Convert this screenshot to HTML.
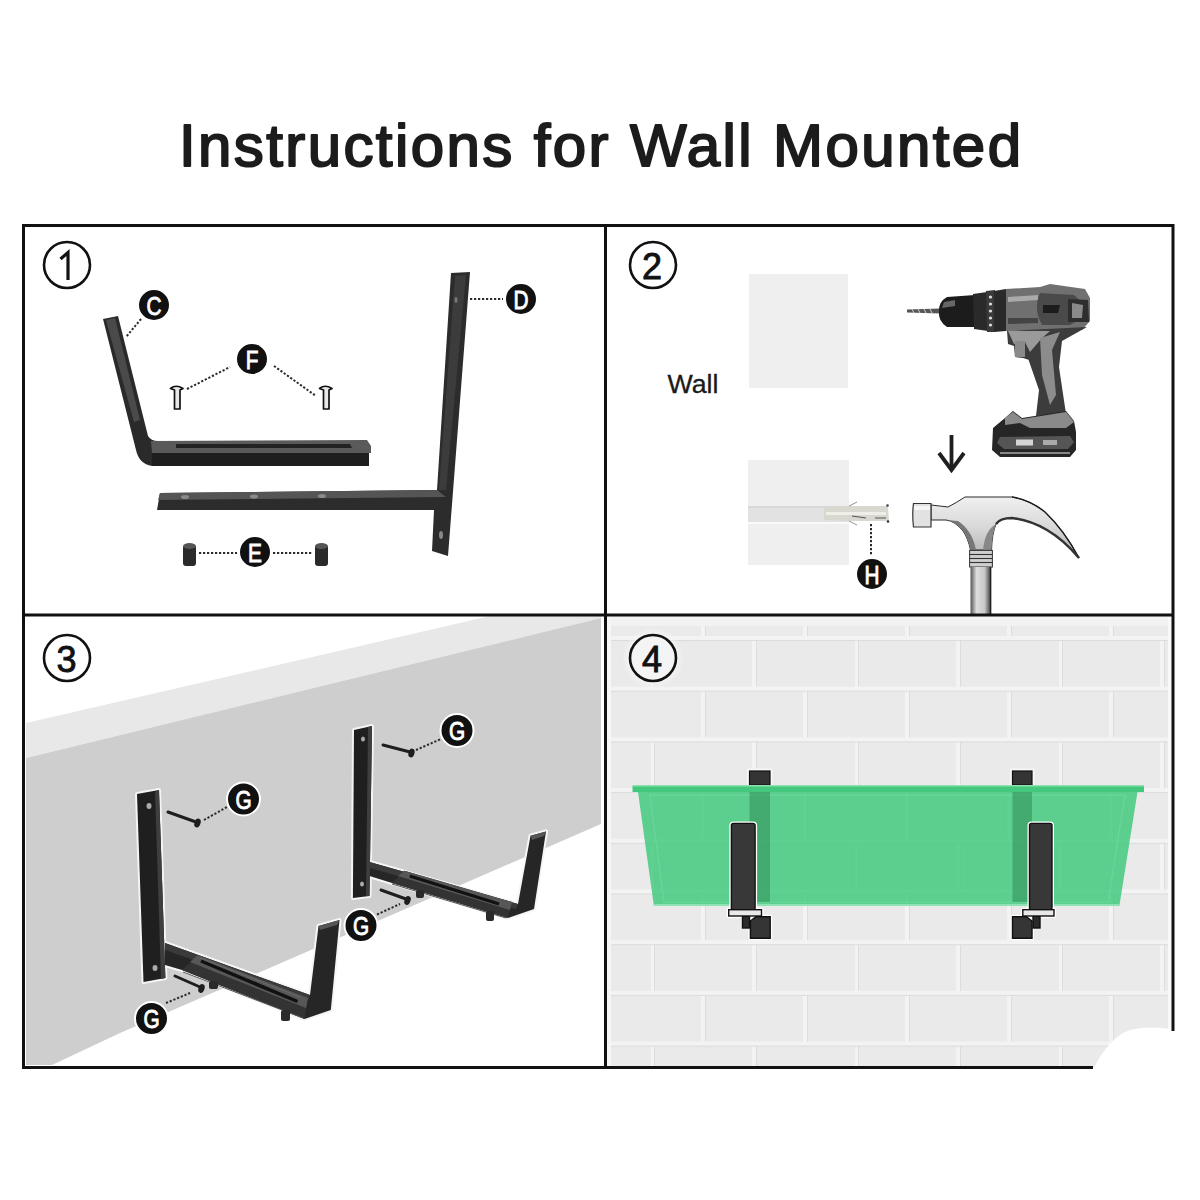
<!DOCTYPE html>
<html><head><meta charset="utf-8">
<style>
html,body{margin:0;padding:0;background:#fff;width:1200px;height:1200px;overflow:hidden}
svg{display:block}
text{font-family:"Liberation Sans",sans-serif}
</style></head>
<body>
<svg width="1200" height="1200" viewBox="0 0 1200 1200">
<defs>
  <pattern id="bricks" x="651" y="636" width="204" height="101.4" patternUnits="userSpaceOnUse">
    <rect width="204" height="101.4" fill="#eaeaea"/>
    <g fill="#f3f3f3">
      <rect x="0" y="0" width="204" height="4"/>
      <rect x="0" y="50.7" width="204" height="4"/>
      <rect x="-1" y="0" width="4" height="50.7"/>
      <rect x="101" y="0" width="4" height="50.7"/>
      <rect x="50" y="50.7" width="4" height="50.7"/>
      <rect x="152" y="50.7" width="4" height="50.7"/>
    </g>
    <g fill="#dcdcdc">
      <rect x="0" y="4" width="204" height="1"/>
      <rect x="0" y="54.7" width="204" height="1"/>
      <rect x="3" y="4" width="1" height="46.7"/>
      <rect x="105" y="4" width="1" height="46.7"/>
      <rect x="54" y="54.7" width="1" height="46.7"/>
      <rect x="156" y="54.7" width="1" height="46.7"/>
    </g>
  </pattern>
  <radialGradient id="halo"><stop offset="0.75" stop-color="#f4f4f4"/><stop offset="1" stop-color="#f4f4f4" stop-opacity="0"/></radialGradient>
  <linearGradient id="rshade" x1="0" y1="0" x2="1" y2="0">
    <stop offset="0" stop-color="#e6e6e6" stop-opacity="0"/><stop offset="1" stop-color="#c8c8c8"/>
  </linearGradient>
</defs>
<rect width="1200" height="1200" fill="#fff"/>

<!-- TITLE -->
<text x="179" y="165.5" font-size="60" fill="#1c1c1c" stroke="#1c1c1c" stroke-width="2" stroke-linejoin="round" textLength="842" lengthAdjust="spacing">Instructions for Wall Mounted</text>

<!-- PANEL 3 background -->
<g id="p3bg">
  <polygon points="26,723 490,616 601,616 601,618 26,758" fill="#e8e8e8"/>
  <polygon points="26,758 601,618 601,824 120,1033 52,1065 26,1065" fill="#cecece"/>
</g>

<!-- PANEL 4 background -->
<g id="p4bg">
  <rect x="607" y="616" width="566" height="451" fill="url(#bricks)"/>
  <rect x="607" y="616" width="566" height="10" fill="#f2f2f2"/>
  <rect x="607" y="616" width="4" height="451" fill="#f6f6f6"/>
  <rect x="1168" y="616" width="4" height="415" fill="#f8f8f8"/>
  <circle cx="653" cy="658" r="31" fill="url(#halo)"/>
  <path d="M1093,1070 C1100,1055 1110,1040 1125,1032 C1140,1026 1160,1027 1175,1030 L1176,1072 Z" fill="#fff"/>
</g>

<!-- PANEL 1 -->
<g id="p1">
  <!-- bracket C -->
  <path d="M103,319 L118,316 L148,436 Q151,441 158,441 L158,466 L152,466 Q139,464 136,450 Z" fill="#2a2a2a"/>
  <path d="M106,320 L115,318 L140,420 L134,422 Z" fill="#4a4a4a"/>
  <path d="M151,441 L367,440 L371,446 L371,453 L152,453 Z" fill="#5a5a5a"/>
  <path d="M176,444 L350,444 L352,448 L176,448 Z" fill="#222"/>
  <rect x="152" y="453" width="217" height="13" fill="#1e1e1e"/>
  <!-- bracket D -->
  <path d="M451,273 L470,272 L448,556 L432,551 L434,510 L157,510 L160,493 L437,490 Z" fill="#2c2c2c"/>
  <path d="M160,493 L437,490 L446,497 L158,500 Z" fill="#555"/>
  <path d="M455,276 L466,275 L446,490 L439,490 Z" fill="#3c3c3c"/>
  <ellipse cx="185" cy="497" rx="4" ry="2" fill="#8a8a8a"/>
  <ellipse cx="254" cy="496.5" rx="4" ry="2" fill="#8a8a8a"/>
  <ellipse cx="322" cy="496" rx="4" ry="2" fill="#8a8a8a"/>
  <ellipse cx="441" cy="535" rx="2" ry="4" fill="#888"/>
  <ellipse cx="456" cy="300" rx="1.5" ry="3" fill="#777"/>
  <!-- screws F -->
  <g fill="#e8e8e8" stroke="#111" stroke-width="1.7" stroke-linejoin="round">
    <path d="M170.5,388.5 Q176,384 183,388.5 L180,390 L180,409 L174.5,409 L174.5,390 Z"/>
    <path d="M319.5,388.5 Q325,384 332,388.5 L329,390 L329,409 L323.5,409 L323.5,390 Z"/>
  </g>
  <!-- cylinders E -->
  <g>
    <rect x="183" y="545" width="13" height="21" rx="3" fill="#2a2a2a"/>
    <ellipse cx="189.5" cy="546" rx="6.5" ry="3" fill="#555"/>
    <rect x="315" y="545" width="13" height="21" rx="3" fill="#2a2a2a"/>
    <ellipse cx="321.5" cy="546" rx="6.5" ry="3" fill="#555"/>
  </g>
  <!-- dotted -->
  <g stroke="#2a2a2a" stroke-width="2" stroke-dasharray="2.2,1.8" fill="none">
    <line x1="141" y1="319" x2="126" y2="337"/>
    <line x1="187" y1="389" x2="230" y2="367"/>
    <line x1="274" y1="366" x2="316" y2="396"/>
    <line x1="470" y1="299" x2="503" y2="299"/>
    <line x1="199" y1="553" x2="237" y2="553"/>
    <line x1="273" y1="553" x2="312" y2="553"/>
  </g>
</g>

<!-- PANEL 2 -->
<g id="p2">
  <rect x="749" y="274" width="99" height="114" fill="#efefef"/>
  <rect x="748" y="460" width="101" height="105" fill="#efefef"/>
  <rect x="748" y="506" width="101" height="16" fill="#e2e2e2"/>
  <rect x="748" y="506" width="101" height="2" fill="#d8d8d8"/>
  <rect x="748" y="522" width="101" height="2" fill="#fafafa"/>
  <text x="667.5" y="393" font-size="25" fill="#1a1a1a" stroke="#1a1a1a" stroke-width="0.3" textLength="51" lengthAdjust="spacingAndGlyphs">Wall</text>
  <!-- anchor -->
  <path d="M824,507 L850,506 L888,506 L889,521 L850,521 L824,520 Z" fill="#d8d8d0"/>
  <rect x="826" y="512" width="60" height="3" fill="#efefe8"/>
  <g stroke="#555" stroke-width="1"><line x1="852" y1="516" x2="866" y2="518"/><line x1="875" y1="518" x2="886" y2="518"/></g>
  <g stroke="#777" stroke-width="0.8"><line x1="849" y1="506" x2="857" y2="502"/><line x1="849" y1="521" x2="857" y2="525"/></g>
  <circle cx="887.5" cy="505.5" r="1.3" fill="#444"/><circle cx="888" cy="521.5" r="1.3" fill="#333"/>
  <g stroke="#2a2a2a" stroke-width="2" stroke-dasharray="2.2,1.8"><line x1="871" y1="524" x2="871" y2="555"/></g>
  <!-- drill -->
  <g id="drill">
    <path d="M907,309.5 L941,308.5 L941,313.5 L907,312.5 Z" fill="#555"/>
    <g stroke="#ccc" stroke-width="1"><line x1="912" y1="309" x2="914" y2="313"/><line x1="918" y1="309" x2="920" y2="313"/><line x1="924" y1="309" x2="926" y2="313"/><line x1="930" y1="309" x2="932" y2="313"/></g>
    <path d="M947,297 L975,295 L975,327 L947,327 Q938,321 939,312 Q938,302 947,297 Z" fill="#1c1c1c"/>
    <path d="M944,302 L955,300 L955,306 L942,308 Z" fill="#666"/>
    <path d="M973,294 L987,292 L988,331 L974,329 Z" fill="#2a2a2a"/>
    <path d="M986,291 L995,290 L995,332 L987,332 Z" fill="#3a3a3a"/>
    <g fill="#ddd"><circle cx="990.5" cy="297" r="1.6"/><circle cx="990.5" cy="304" r="1.6"/><circle cx="990.5" cy="311" r="1.6"/><circle cx="990.5" cy="318" r="1.6"/><circle cx="990.5" cy="325" r="1.6"/></g>
    <path d="M994,291 L1006,289 L1006,331 L994,332 Z" fill="#2a2a2a"/>
    <path d="M1006,289 L1040,287 L1050,284 L1085,289 L1090,298 L1090,321 L1082,330 L1006,331 Z" fill="#707070"/>
    <path d="M1008,297 L1038,295 L1038,300 L1008,302 Z" fill="#aaa"/>
    <path d="M1008,318 L1038,318 L1038,323 L1008,324 Z" fill="#444"/>
    <path d="M1040,293 L1074,295 L1082,302 L1082,318 L1070,325 L1042,325 Q1033,309 1040,293 Z" fill="#4a4a4a"/>
    <path d="M1043,305 L1060,305 L1058,313 L1043,313 Z" fill="#1c1c1c"/>
    <path d="M1068,299 L1088,300 L1089,322 L1068,322 Z" fill="#2e2e2e"/>
    <path d="M1072,303 L1083,305 L1082,318 L1072,318 Z" fill="#8a8a8a"/>
    <!-- handle -->
    <path d="M1007,331 L1087,327 L1062,341 L1059,367 L1066,414 L1036,416 L1039,390 L1028.5,359.7 L1023,358 L1015,357 L1014,346 L1008,344 Z" fill="#3c3c3c"/>
    <path d="M1008,331 L1050,331 L1042,338 L1030,352 L1025,342 L1014,344 Z" fill="#9a9a9a"/>
    <path d="M1015,341 L1025,341 L1025,357 L1015,357 Z" fill="#8a8a8a"/>
    <path d="M1040,338 L1060,332 L1052,350 L1056,395 L1050,405 L1042,375 Z" fill="#8c8c8c"/>
    <!-- battery -->
    <path d="M993,428 L1005,418 L1013,411 L1022,418 L1066,411 L1074,421 L1076,432 L1076,450 L1070,457 L1000,457 L992,450 Z" fill="#262626"/>
    <path d="M1013,412 L1022,419 L1066,412 L1074,422 L1066,428 L1030,428 L1020,423 L1005,425 L1005,418 Z" fill="#8a8a8a"/>
    <path d="M1000,437 L1070,436 L1074,442 L1068,449 L1004,449 L997,443 Z" fill="#555"/>
    <rect x="1016" y="439.5" width="17" height="6" fill="#d4d4d4"/>
    <rect x="1043" y="440" width="14" height="5" fill="#aaa"/>
    <rect x="1000" y="452" width="70" height="2" fill="#888"/>
  </g>
  <!-- arrow -->
  <g stroke="#1f1f1f" stroke-width="3.8" fill="none">
    <line x1="951.5" y1="435" x2="951.5" y2="470"/>
    <polyline points="939,453 951.5,470 964,453"/>
  </g>
  <!-- hammer -->
  <defs>
    <linearGradient id="hmhead" x1="0" y1="0" x2="0" y2="1">
      <stop offset="0" stop-color="#f0f0f0"/><stop offset="0.5" stop-color="#d8d8d8"/><stop offset="1" stop-color="#b0b0b0"/>
    </linearGradient>
    <linearGradient id="hmhandle" x1="0" y1="0" x2="1" y2="0">
      <stop offset="0" stop-color="#555"/><stop offset="0.3" stop-color="#ddd"/><stop offset="0.7" stop-color="#c8c8c8"/><stop offset="1" stop-color="#444"/>
    </linearGradient>
  </defs>
  <path d="M931,505 Q940,506 948,507 Q956,503 965,497 L1012,497 Q1030,500 1045,512 Q1064,530 1079,558 Q1064,540 1047,530 Q1030,520 1012,518 Q1000,518 996,524 Q992,534 991.5,550 L970.5,550 Q968,538 963,531 Q955,521 946,520 L931,520 Z" fill="url(#hmhead)" stroke="#2a2a2a" stroke-width="1"/>
  <path d="M1012,497 Q1030,500 1045,512 Q1064,530 1079,558" fill="none" stroke="#1e1e1e" stroke-width="1.5"/>
  <path d="M1079,558 Q1064,540 1047,530 Q1030,520 1012,518 Q1000,518 996,524" fill="none" stroke="#333" stroke-width="2.5"/>
  <path d="M996,524 Q992,534 991.5,550 L983,550 Q985,530 996,524 Z" fill="#888"/>
  <path d="M946,520 Q955,521 963,531 Q968,538 970.5,550 L976,550 Q972,530 958,521 Z" fill="#777"/>
  <path d="M913.5,503.5 L931,503.5 L931,527 L913.5,527 Q912,515 913.5,503.5 Z" fill="#e2e2e2" stroke="#333" stroke-width="1.2"/>
  <rect x="914" y="506" width="16" height="4" fill="#f6f6f6"/>
  <rect x="969.6" y="550.4" width="22.8" height="16.6" fill="#cfcfcf" stroke="#333" stroke-width="1"/>
  <g stroke="#333" stroke-width="1.1"><line x1="969.6" y1="554.5" x2="992.4" y2="554.5"/><line x1="969.6" y1="558.5" x2="992.4" y2="558.5"/><line x1="969.6" y1="562.5" x2="992.4" y2="562.5"/></g>
  <rect x="970.5" y="567" width="20.1" height="48" fill="url(#hmhandle)"/>
  <line x1="990.6" y1="567" x2="990.6" y2="615" stroke="#222" stroke-width="1.5"/>
</g>

<!-- PANEL 3 -->
<g id="p3">
  <!-- white halos -->
  <g fill="none" stroke="#f4f4f4" stroke-width="4" stroke-linejoin="round">
    <path d="M137,794 L159,790 L165.4,978 L143.5,982 Z"/>
    <path d="M354,730 L372,726 L369.5,896 L352.9,898 Z"/>
  </g>
  <!-- bracket 1 -->
  <g stroke="#f6f6f6" stroke-width="4" stroke-linejoin="round" fill="#f6f6f6">
    <path d="M165,943 L310,995 L318.5,926 L339.5,920 L330.8,1010 L304.5,1019 L182,970 L165,965 Z"/>
  </g>
  <path d="M165,943 L310,995 L318.5,926 L339.5,920 L330.8,1010 L304.5,1019 L182,970 L165,965 Z" fill="#262626"/>
  <path d="M165,943 L310,995 L308,1000 L165,950 Z" fill="#3a3a3a"/>
  <path d="M197.8,955 L308,998 L304.5,1019 L182,970 Z" fill="#333"/>
  <path d="M197.8,955 L308,998 L306,1008 L190,962 Z" fill="#575757"/>
  <path d="M201,961 L297.5,1001.5" stroke="#111" stroke-width="3.5"/>
  <path d="M200,958 L300,997" stroke="#6a6a6a" stroke-width="1"/>
  <path d="M183,972 L303,1018" stroke="#555" stroke-width="1"/>
  <path d="M318.5,926 L339.5,920 L337,925 L320,930 Z" fill="#555"/>
  <rect x="209" y="981" width="9" height="8" rx="2" fill="#2a2a2a"/>
  <rect x="281" y="1010" width="9" height="11" rx="2" fill="#2a2a2a"/>
  <path d="M137,794 L159,790 L165.4,978 L143.5,982 Z" fill="#1f1f1f"/>
  <path d="M159,790 L165.4,978 L161,979 L155,792 Z" fill="#3e3e3e"/>
  <ellipse cx="149" cy="806" rx="2.5" ry="3" fill="#aaa"/>
  <ellipse cx="155" cy="968" rx="2.5" ry="3" fill="#aaa"/>
  <!-- bracket 2 -->
  <g stroke="#f6f6f6" stroke-width="4" stroke-linejoin="round" fill="#f6f6f6">
    <path d="M369.5,862 L518,904 L530.5,835.7 L546,831.4 L534,909 L507.8,918 L392,883 L369.5,876 Z"/>
  </g>
  <path d="M369.5,862 L518,904 L530.5,835.7 L546,831.4 L534,909 L507.8,918 L392,883 L369.5,876 Z" fill="#262626"/>
  <path d="M369.5,862 L518,904 L516,909 L369.5,868 Z" fill="#3a3a3a"/>
  <path d="M404.5,870.8 L512,902 L507.8,918 L392,883 Z" fill="#333"/>
  <path d="M404.5,870.8 L512,902 L510,910 L398,876 Z" fill="#575757"/>
  <path d="M409.8,876 L499,904" stroke="#111" stroke-width="3"/>
  <path d="M392,884 L506,918" stroke="#555" stroke-width="1"/>
  <path d="M530.5,835.7 L546,831.4 L544,836 L532,840 Z" fill="#555"/>
  <rect x="416" y="890" width="8" height="8" rx="2" fill="#2a2a2a"/>
  <rect x="486" y="911" width="8" height="10" rx="2" fill="#2a2a2a"/>
  <path d="M354,730 L372,726 L369.5,896 L352.9,898 Z" fill="#1f1f1f"/>
  <path d="M372,726 L369.5,896 L366,896 L368,727 Z" fill="#3e3e3e"/>
  <ellipse cx="363" cy="739" rx="2" ry="2.5" fill="#aaa"/>
  <ellipse cx="362" cy="884" rx="2" ry="2.5" fill="#aaa"/>
  <!-- screws -->
  <g stroke="#1e1e1e" stroke-width="3" stroke-linecap="round">
    <line x1="168" y1="812" x2="196" y2="822"/>
    <line x1="175" y1="976" x2="200" y2="987"/>
    <line x1="383" y1="745" x2="410" y2="752"/>
    <line x1="381" y1="890" x2="406" y2="899"/>
  </g>
  <g fill="#1e1e1e">
    <ellipse cx="197.5" cy="823" rx="3" ry="4.5" transform="rotate(20 197.5 823)"/>
    <ellipse cx="201.5" cy="988.5" rx="3" ry="4.5" transform="rotate(20 201.5 988.5)"/>
    <ellipse cx="411.5" cy="753" rx="3" ry="4.5" transform="rotate(15 411.5 753)"/>
    <ellipse cx="407.5" cy="900.5" rx="3" ry="4.5" transform="rotate(20 407.5 900.5)"/>
  </g>
  <g stroke="#2a2a2a" stroke-width="2" stroke-dasharray="2.2,1.8" fill="none">
    <line x1="204" y1="820" x2="227" y2="807"/>
    <line x1="166" y1="1003" x2="190" y2="993"/>
    <line x1="416" y1="750" x2="441" y2="739"/>
    <line x1="377" y1="914.5" x2="400" y2="904"/>
  </g>
</g>

<!-- PANEL 4 -->
<g id="p4">
  <!-- back tabs -->
  <rect x="747" y="768.5" width="25.5" height="19" fill="#f6f6f6"/>
  <rect x="1010" y="768.5" width="24.5" height="19" fill="#f6f6f6"/>
  <rect x="749.5" y="771" width="20.5" height="14" fill="#343434" stroke="#111" stroke-width="1.2"/>
  <rect x="1012.5" y="771" width="19.5" height="14" fill="#343434" stroke="#111" stroke-width="1.2"/>
  <!-- box -->
  <path d="M638,792 L1137.5,792 L1119.5,905 L653.75,905 Z" fill="#43ca7f" fill-opacity="0.85"/>
  <path d="M650,795 L1125,795 L1108,902 L664,902 Z" fill="none" stroke="#6fd89c" stroke-width="1.5" stroke-opacity="0.6"/>
  <rect x="632.5" y="786" width="511.5" height="6" fill="#43c87d"/>
  <rect x="632.5" y="785" width="511.5" height="1.5" fill="#8ee0b0"/>
  <line x1="653.75" y1="905" x2="1119.5" y2="905" stroke="#8fe2b3" stroke-width="2"/>
  <rect x="749.5" y="792" width="20.5" height="110" fill="#2f8e57" fill-opacity="0.55"/>
  <rect x="1012.5" y="792" width="19.5" height="110" fill="#2f8e57" fill-opacity="0.55"/>
  <!-- left bracket front -->
  <g stroke="#fff" stroke-width="4" fill="#fff" stroke-linejoin="round">
    <rect x="731.4" y="823.4" width="23.7" height="86.3" rx="2"/>
    <rect x="728.7" y="909.7" width="32.8" height="6.3"/>
    <path d="M750.4,921 L756,916.8 L770.2,916.8 L770.2,938.2 L750.4,938.2 Z"/>
    <rect x="1029.5" y="823.4" width="22.5" height="86.3" rx="2"/>
    <rect x="1022.8" y="909.7" width="31.2" height="6.3"/>
    <path d="M1032,921 L1026.4,916.8 L1012.5,916.8 L1012.5,938.2 L1032,938.2 Z"/>
  </g>
  <g stroke="#111" stroke-width="1.4">
    <rect x="731.4" y="823.4" width="23.7" height="86.3" rx="2" fill="#383838"/>
    <rect x="742.5" y="916" width="7" height="12" fill="#2a2a2a"/>
    <path d="M750.4,921 L756,916.8 L770.2,916.8 L770.2,938.2 L750.4,938.2 Z" fill="#353535"/>
    <rect x="728.7" y="909.7" width="32.8" height="6.3" fill="#e8e8e8"/>
    <rect x="1029.5" y="823.4" width="22.5" height="86.3" rx="2" fill="#383838"/>
    <rect x="1033" y="916" width="7" height="12" fill="#2a2a2a"/>
    <path d="M1032,921 L1026.4,916.8 L1012.5,916.8 L1012.5,938.2 L1032,938.2 Z" fill="#353535"/>
    <rect x="1022.8" y="909.7" width="31.2" height="6.3" fill="#e8e8e8"/>
  </g>
</g>

<!-- GRID -->
<g fill="none" stroke="#111" stroke-width="3">
  <line x1="22" y1="225.5" x2="1174" y2="225.5"/>
  <line x1="23.5" y1="224" x2="23.5" y2="1068"/>
  <line x1="1173" y1="224" x2="1173" y2="1031"/>
  <line x1="22" y1="1067.5" x2="1093" y2="1067.5"/>
  <line x1="22" y1="615" x2="1174" y2="615"/>
  <line x1="605.5" y1="224" x2="605.5" y2="1068"/>
</g>

<!-- LABELS -->
<g id="labels">
  <g fill="#111" stroke="#fff" stroke-width="2">
    <circle cx="154" cy="305" r="16"/>
    <circle cx="252" cy="359" r="16"/>
    <circle cx="521" cy="299" r="16"/>
    <circle cx="255" cy="552" r="16"/>
    <circle cx="872" cy="574" r="16"/>
    <circle cx="243.5" cy="799" r="16.5"/>
    <circle cx="151.5" cy="1018.5" r="16.5"/>
    <circle cx="457" cy="730.5" r="16.5"/>
    <circle cx="361" cy="925.5" r="16.5"/>
  </g>
  <g fill="#fff" stroke="#fff" stroke-width="0.9" font-size="26" text-anchor="middle">
    <text transform="translate(154 305) scale(0.8 1)" x="0" y="9.5">C</text>
    <text transform="translate(252 359) scale(0.8 1)" x="0" y="9.5">F</text>
    <text transform="translate(521 299) scale(0.8 1)" x="0" y="9.5">D</text>
    <text transform="translate(255 552) scale(0.8 1)" x="0" y="9.5">E</text>
    <text transform="translate(872 574) scale(0.8 1)" x="0" y="9.5">H</text>
    <text transform="translate(243.5 799) scale(0.8 1)" x="0" y="9.5">G</text>
    <text transform="translate(151.5 1018.5) scale(0.8 1)" x="0" y="9.5">G</text>
    <text transform="translate(457 730.5) scale(0.8 1)" x="0" y="9.5">G</text>
    <text transform="translate(361 925.5) scale(0.8 1)" x="0" y="9.5">G</text>
</g>
</g>

<!-- step numbers -->
<g fill="none" stroke="#111" stroke-width="2.6">
  <circle cx="67" cy="265" r="23"/>
  <circle cx="653" cy="265" r="23"/>
  <circle cx="67" cy="658" r="23"/>
  <circle cx="653" cy="658" r="23"/>
</g>
<path d="M60.5,259 L68,252.5 L68,280" fill="none" stroke="#111" stroke-width="3.2" stroke-linejoin="miter"/>
<g font-size="36" fill="#111" stroke="#111" stroke-width="0.9" text-anchor="middle">
  <text x="652" y="279">2</text>
  <text x="66.5" y="672">3</text>
  <text x="652" y="672">4</text>
</g>

</svg>
</body></html>
